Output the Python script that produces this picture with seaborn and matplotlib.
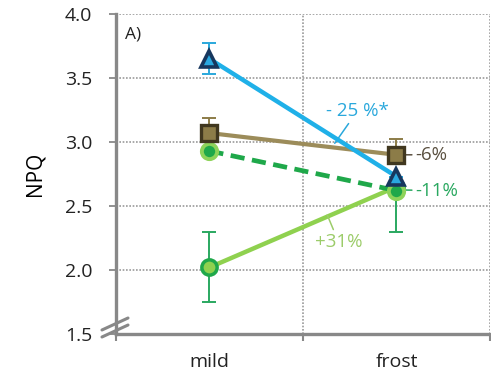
import numpy as np
import pandas as pd
import matplotlib
matplotlib.use("Agg")
import matplotlib.pyplot as plt
import seaborn as sns

# Conditions and NPQ means per series
conditions = ["mild", "frost"]
npq_blue = [3.65, 2.73]
npq_olive = [3.07, 2.90]
npq_dashed = [2.93, 2.62]
npq_light = [2.02, 2.65]

# error bars (lower, upper) per condition
err_blue_lo = [0.12, 0.0]
err_blue_hi = [0.12, 0.0]
err_olive_lo = [0.0, 0.0]
err_olive_hi = [0.12, 0.12]
err_light_lo = [0.27, 0.35]
err_light_hi = [0.28, 0.0]

change_labels = ["- 25 %*", "-6%", "-11%", "+31%"]

sns.set_theme(style="white")
plt.rcParams["font.family"] = ["Open Sans", "DejaVu Sans"]

fig, ax = plt.subplots(figsize=(4.91, 3.85), dpi=100)
fig.subplots_adjust(left=0.236, right=0.998, bottom=0.1325, top=0.9636)

x = np.arange(len(conditions))

def series(vals):
    return pd.DataFrame({"x": x, "npq": vals})

# light green solid line
sns.lineplot(data=series(npq_light), x="x", y="npq", ax=ax, color="#8fd14f",
             lw=3.2, marker="o", markersize=11, markerfacecolor="#8fd14f",
             markeredgecolor="#1fa84a", markeredgewidth=2.5, zorder=3)
ax.errorbar(x, npq_light, yerr=[err_light_lo, err_light_hi], fmt="none",
            ecolor="#2aa860", elinewidth=1.4, capsize=5, capthick=1.4, zorder=2)

# dark green dashed line
sns.lineplot(data=series(npq_dashed), x="x", y="npq", ax=ax, color="#1fa84a",
             lw=3.4, dashes=False, marker="o", markersize=11,
             markerfacecolor="#1fa84a", markeredgecolor="#8ed35a",
             markeredgewidth=2.8, zorder=4)
ax.lines[-1].set_linestyle((0, (3, 1.6)))

# olive line with squares
sns.lineplot(data=series(npq_olive), x="x", y="npq", ax=ax, color="#9c8c5a",
             lw=3.0, marker="s", markersize=12, markerfacecolor="#8c7c48",
             markeredgecolor="#40371f", markeredgewidth=2.4, zorder=5)
ax.errorbar(x, npq_olive, yerr=[err_olive_lo, err_olive_hi], fmt="none",
            ecolor="#8c7c48", elinewidth=1.4, capsize=5, capthick=1.4, zorder=2)

# blue line with triangles
sns.lineplot(data=series(npq_blue), x="x", y="npq", ax=ax, color="#1fb0e8",
             lw=3.2, marker="^", markersize=12, markerfacecolor="#2aa8e0",
             markeredgecolor="#17375e", markeredgewidth=2.6, zorder=6)
ax.errorbar(x, npq_blue, yerr=[err_blue_lo, err_blue_hi], fmt="none",
            ecolor="#2aa8dc", elinewidth=1.4, capsize=5, capthick=1.4, zorder=2)

# change annotations with leader lines
lead = dict(arrowstyle="-", lw=1.1, shrinkA=0, shrinkB=0)
fs = 13.5
ax.annotate(change_labels[0], xy=(0.67, 2.99), xytext=(0.79, 3.24),
            color="#2aa8dc", fontsize=fs, ha="center", va="center",
            arrowprops=dict(lead, color="#2aa8dc"))
ax.annotate(change_labels[1], xy=(1.04, npq_olive[1]), xytext=(1.1, npq_olive[1]),
            color="#5a5040", fontsize=fs, ha="left", va="center",
            arrowprops=dict(lead, color="#5a5040"))
ax.annotate(change_labels[2], xy=(1.04, 2.625), xytext=(1.1, 2.62),
            color="#2aa860", fontsize=fs, ha="left", va="center",
            arrowprops=dict(lead, color="#2aa860"))
ax.annotate(change_labels[3], xy=(0.63, 2.43), xytext=(0.69, 2.22),
            color="#9ccc6a", fontsize=fs, ha="center", va="center",
            arrowprops=dict(lead, color="#9ccc6a"))

ax.text(0.025, 0.96, "A)", transform=ax.transAxes, fontsize=12.5,
        ha="left", va="top", color="#222222")

# axes styling
ax.set_xlim(-0.5, 1.5)
ax.set_ylim(1.5, 4.0)
ax.set_xticks(x)
ax.set_xticklabels(conditions)
ax.set_xticks([-0.5, 0.5, 1.5], minor=True)
ax.set_yticks([1.5, 2.0, 2.5, 3.0, 3.5, 4.0])
ax.set_yticklabels(["1.5", "2.0", "2.5", "3.0", "3.5", "4.0"])
ax.set_xlabel("")
ax.set_ylabel("NPQ", fontsize=15, labelpad=14, color="black")
ax.tick_params(axis="y", labelsize=14, length=5, width=1.3, color="#888888",
               left=True, pad=12, labelcolor="#222222")
ax.tick_params(axis="x", which="major", labelsize=14, length=0, pad=14,
               labelcolor="#222222")
ax.tick_params(axis="x", which="minor", length=5, width=1.5, color="#888888",
               bottom=True)

for yv in [2.0, 2.5, 3.0, 3.5, 4.0]:
    ax.axhline(yv, color="#999999", lw=1.2, ls=(0, (1, 1)), zorder=1)
for xv in [0.5, 1.5]:
    ax.axvline(xv, color="#999999", lw=1.2, ls=(0, (1, 1)), zorder=1)

for s in ["top", "right"]:
    ax.spines[s].set_visible(False)
ax.spines["left"].set_color("#888888")
ax.spines["left"].set_linewidth(2.4)
ax.spines["bottom"].set_color("#888888")
ax.spines["bottom"].set_linewidth(2.4)

# axis break marks
for y0, y1 in [(0.1429, 0.174), (0.1247, 0.1558)]:
    fig.add_artist(plt.Line2D([0.2077, 0.2607], [y0, y1], color="#888888",
                              lw=2.2, transform=fig.transFigure))

fig.savefig("out.png", dpi=100)
